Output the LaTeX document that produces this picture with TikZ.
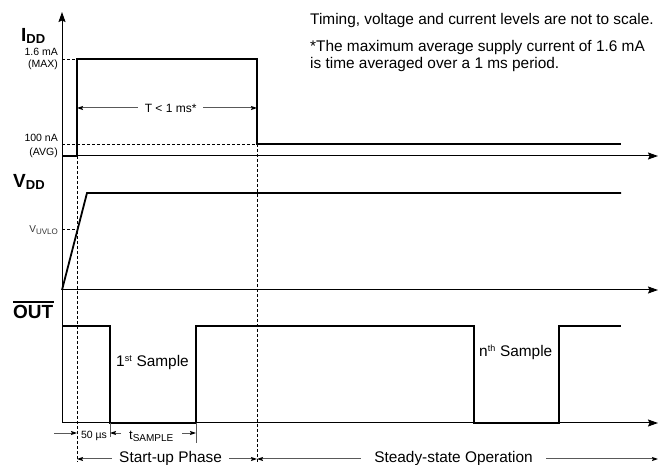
\documentclass[tikz,border=0pt]{standalone}
\usepackage{fontspec}
\setmainfont{Liberation Sans}
\usetikzlibrary{arrows.meta}
\newcommand{\fsz}[1]{\fontsize{#1}{#1}\selectfont}
\begin{document}
\begin{tikzpicture}[x=1pt,y=-1pt,
  axis/.style={line width=1pt,-{Stealth[length=10pt,width=7pt,inset=1.5pt]}},
  wave/.style={line width=1.8pt,line join=miter},
  dsh/.style={line width=0.9pt,dash pattern=on 3pt off 2pt},
  ext/.style={line width=0.9pt,draw=black!65},
  dimtip/.style={-{Stealth[length=6pt,width=4pt,inset=1pt,black]}},
  dim/.style={line width=1pt,draw=black!65,{Stealth[length=6pt,width=4pt,inset=1pt,black]}-{Stealth[length=6pt,width=4pt,inset=1pt,black]}},
  lbl/.style={inner sep=0pt,font=\fsz{10.5}},
  big/.style={inner sep=0pt,font=\fsz{19}\bfseries},
  txt/.style={inner sep=0pt,font=\fsz{15.4}},
  gap/.style={fill=white,inner sep=0pt,inner xsep=7pt,minimum height=10pt}
]
\useasboundingbox (0,0) rectangle (665,465);
% axes
\coordinate (top) at (62,12);
\coordinate (o1) at (62,156);
\coordinate (o2) at (62,290);
\coordinate (o3) at (62,423);
\coordinate (e1) at (658,156);
\coordinate (e2) at (658,290);
\coordinate (e3) at (658,423);
\draw[axis] (o3) -- (top);
\draw[axis] (o1) -- (e1);
\draw[axis] (o2) -- (e2);
\draw[axis] (o3) -- (e3);
% dashed guides
\coordinate (t0a) at (77,156);
\coordinate (t0b) at (77,462);
\coordinate (t1a) at (257,144);
\coordinate (t1b) at (257,462);
\draw[dsh] (t0a) -- (t0b);
\draw[dsh] (t1a) -- (t1b);
\draw[dsh] (62,59) -- (77,59);
\draw[dsh] (62,144) -- (t1a);
\draw[dsh] (62,229) -- (78,229);
% waveforms
\draw[wave] (o1) -- (77,156) -- (77,59) -- (257,59) -- (257,144) -- (621,144);
\draw[wave] (o2) -- (87,193) -- (621,193);
\draw[wave] (62,326) -- (110,326) -- (110,423) -- (196,423) -- (196,326) -- (474,326)
  -- (474,423) -- (559,423) -- (559,326) -- (621,326);
% axis labels
\node[big,anchor=base west] (idd) at (21,42) {I\raisebox{-2pt}{\fsz{13}\bfseries DD}};
\node[big,anchor=base west] (vdd) at (13,188) {V\raisebox{-2pt}{\fsz{13}\bfseries DD}};
\node[big,anchor=base west] (out) at (13,319) {OUT};
\draw[line width=1.5pt] ([yshift=3.5pt]out.north west) -- ([yshift=3.5pt]out.north east);
\node[lbl,anchor=base east] (imax) at (58,56) {1.6 mA};
\node[lbl,anchor=base east] (imax2) at (58,68) {(MAX)};
\node[lbl,anchor=base east] (iavg) at (58,142) {100 nA};
\node[lbl,anchor=base east] (iavg2) at (58,156) {(AVG)};
\node[inner sep=0pt,anchor=east,text=black!80] (uvlo) at (58,230) {\fsz{10}V\raisebox{-1.5pt}{\fsz{8}UVLO}};
% T < 1 ms
\draw[dim] (77,108) -- node[gap,pos=0.52,font=\fsz{12}] (tlab) {T < 1 ms*} (257,108);
% samples
\node[txt,anchor=base west] (s1) at (116,367) {1\textsuperscript{\fsz{9}st} Sample};
\node[txt,anchor=base west] (sn) at (479,357) {n\textsuperscript{\fsz{9}th} Sample};
% bottom dimensions
\coordinate (x1a) at (110,423);
\coordinate (x1b) at (110,437);
\coordinate (x2a) at (196,423);
\coordinate (x2b) at (196,443);
\draw[ext] (x1a) -- (x1b);
\draw[ext] (x2a) -- (x2b);
\draw[ext,dimtip] (54,433) -- (77,433);
\node[lbl,anchor=base] (fifty) at (94,438.5) {50 µs};
\draw[ext,dimtip] (121,433) -- (110,433);
\node[inner sep=0pt,anchor=base west] (tsamp) at (129,439) {\fsz{13}t\raisebox{-2pt}{\fsz{10}SAMPLE}};
\draw[ext,dimtip] (182,433) -- (196,433);
\draw[dim] (77,459) -- node[gap,pos=0.52,txt,fill=white,inner xsep=7pt] (sup) {Start-up Phase} (257,459);
\draw[dim] (257,459) -- node[gap,pos=0.49,txt,fill=white,inner xsep=13pt] (ss) {Steady-state Operation} (658,459);
% notes
\node[txt,anchor=base west] (note1) at (310,25) {Timing, voltage and current levels are not to scale.};
\node[txt,anchor=base west] (note2) at (310,52) {*The maximum average supply current of 1.6 mA};
\node[txt,anchor=base west] (note3) at (310,69) {is time averaged over a 1 ms period.};
\end{tikzpicture}
\end{document}
